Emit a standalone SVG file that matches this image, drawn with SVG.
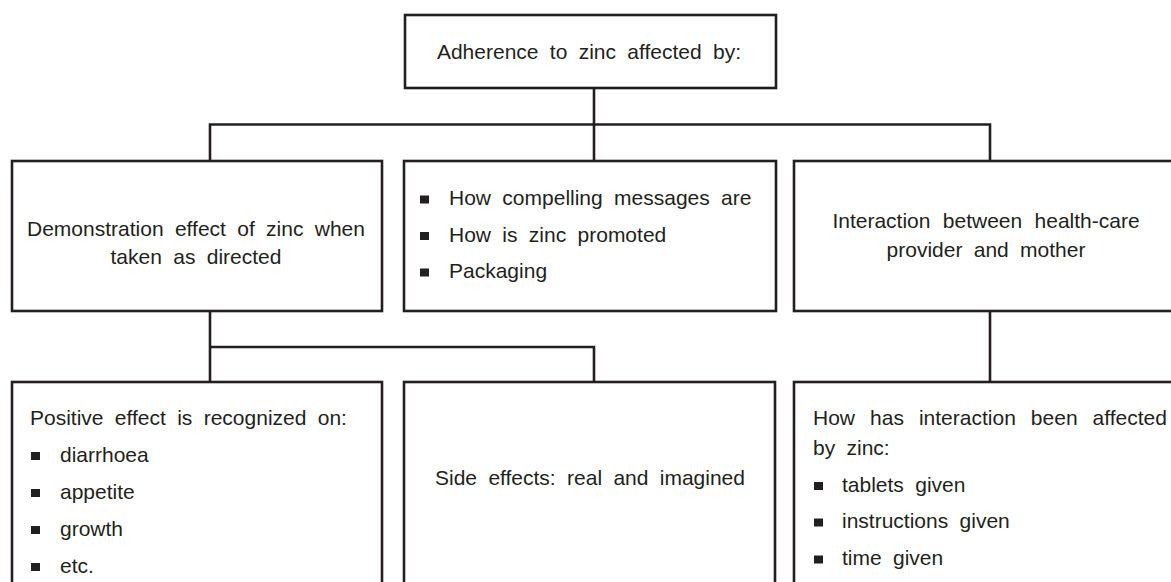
<svg xmlns="http://www.w3.org/2000/svg" width="1171" height="582" viewBox="0 0 1171 582">
  <style>
    .box { fill: #ffffff; stroke: #231f20; stroke-width: 2.6; }
    .wire { fill: none; stroke: #231f20; stroke-width: 2.6; }
    text { font-family: "Liberation Sans", Arial, sans-serif; font-size: 21px; fill: #231f20; word-spacing: 5.5px; }
    .c { text-anchor: middle; }
    .bullet { fill: #231f20; }
  </style>
  <rect width="1171" height="582" fill="#ffffff"/>

  <!-- connectors -->
  <g id="connectors">
    <path class="wire" d="M594 88 V161"/>
    <path class="wire" d="M210 161 V124.5 H990 V161"/>
    <path class="wire" d="M210 311 V382"/>
    <path class="wire" d="M210 347 H594 V382"/>
    <path class="wire" d="M990 311 V382"/>
  </g>

  <!-- root -->
  <g id="root">
    <rect class="box" x="405" y="15" width="371" height="73"/>
    <text class="c" x="589" y="59">Adherence to zinc affected by:</text>
  </g>

  <!-- second level -->
  <g id="demonstration">
    <rect class="box" x="12" y="161" width="370" height="150"/>
    <text class="c" x="196" y="236">Demonstration effect of zinc when</text>
    <text class="c" x="196" y="264">taken as directed</text>
  </g>

  <g id="messages">
    <rect class="box" x="404" y="161" width="372" height="150"/>
    <rect class="bullet" x="420" y="195.5" width="9" height="8"/>
    <text x="449" y="205">How compelling messages are</text>
    <rect class="bullet" x="420" y="232" width="9" height="8"/>
    <text x="449" y="241.5">How is zinc promoted</text>
    <rect class="bullet" x="420" y="268.5" width="9" height="8"/>
    <text x="449" y="278">Packaging</text>
  </g>

  <g id="interaction">
    <rect class="box" x="794" y="161" width="400" height="150"/>
    <text class="c" x="986" y="228" style="word-spacing:6.5px">Interaction between health-care</text>
    <text class="c" x="986" y="256.5">provider and mother</text>
  </g>

  <!-- third level -->
  <g id="positive-effect">
    <rect class="box" x="12" y="382" width="370" height="230"/>
    <text x="30" y="425">Positive effect is recognized on:</text>
    <rect class="bullet" x="31" y="452" width="9" height="8"/>
    <text x="60" y="461.5">diarrhoea</text>
    <rect class="bullet" x="31" y="489" width="9" height="8"/>
    <text x="60" y="498.5">appetite</text>
    <rect class="bullet" x="31" y="526" width="9" height="8"/>
    <text x="60" y="535.5">growth</text>
    <rect class="bullet" x="31" y="563" width="9" height="8"/>
    <text x="60" y="572.5">etc.</text>
  </g>

  <g id="side-effects">
    <rect class="box" x="404" y="382" width="371" height="230"/>
    <text class="c" x="590" y="485">Side effects: real and imagined</text>
  </g>

  <g id="interaction-effect">
    <rect class="box" x="794" y="382" width="400" height="230"/>
    <text x="813" y="425" style="word-spacing:9.2px">How has interaction been affected</text>
    <text x="813" y="455">by zinc:</text>
    <rect class="bullet" x="814" y="482" width="9" height="8"/>
    <text x="842" y="491.5">tablets given</text>
    <rect class="bullet" x="814" y="518.5" width="9" height="8"/>
    <text x="842" y="528">instructions given</text>
    <rect class="bullet" x="814" y="555.5" width="9" height="8"/>
    <text x="842" y="565">time given</text>
  </g>
</svg>
